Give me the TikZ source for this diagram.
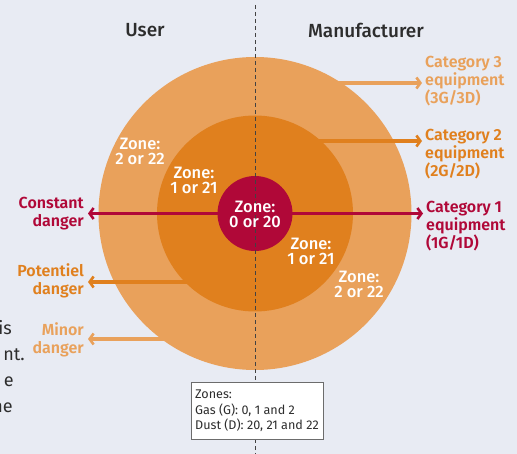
\documentclass[tikz,border=0pt]{standalone}
\usepackage{fontspec}
\setmainfont{Fira Sans}
\newfontfamily\medfont{Fira Sans Medium}
\newfontfamily\semifont{Fira Sans SemiBold}
\usetikzlibrary{arrows.meta}
\definecolor{bg}{RGB}{232,235,243}
\definecolor{ring3}{RGB}{233,161,91}
\definecolor{ring2}{RGB}{224,128,30}
\definecolor{ring1}{RGB}{176,8,56}
\definecolor{ink}{RGB}{45,45,45}
\tikzset{
  arr/.style={line width=3.4pt,-{Straight Barb[length=4pt,width=11pt,line width=2.6pt]}},
  cat/.style={inner sep=0pt,align=left,anchor=west,font=\semifont\fontsize{16}{18}\selectfont},
  dang/.style={inner sep=0pt,align=right,anchor=east,font=\semifont\fontsize{16}{18}\selectfont},
  zone/.style={inner sep=0pt,align=center,text=white,font=\medfont\fontsize{16.5}{15}\selectfont},
  head/.style={inner sep=0pt,text=ink,font=\medfont\fontsize{19}{20}\selectfont},
  frag/.style={inner sep=0pt,anchor=east,text=ink,font=\fontsize{18}{20}\selectfont}
}
\begin{document}
\begin{tikzpicture}[x=1pt,y=-1pt]
\fill[bg] (0,0) rectangle (517,454);
\useasboundingbox (0,0) rectangle (517,454);
\coordinate (c) at (255,213.5);
\fill[ring3] (c) circle (156.5);
\fill[ring2] (c) circle (98);
\fill[ring1] (c) circle (37.5);
% headers
\node[head] (user) at (145,30) {User};
\node[head] (manu) at (366,30) {Manufacturer};
% right labels
\node[cat,text=ring3] (cat3) at (425,81) {Category 3\\equipment\\(3G/3D)};
\node[cat,text=ring2] (cat2) at (425,154) {Category 2\\equipment\\(2G/2D)};
\node[cat,text=ring1] (cat1) at (426,226) {Category 1\\equipment\\(1G/1D)};
% left labels
\node[dang,text=ring1] (const) at (84,214) {Constant\\danger};
\node[dang,text=ring2] (pot) at (84,281) {Potentiel\\danger};
\node[dang,text=ring3] (minor) at (84,340) {Minor\\danger};
% arrow start points on the ring edges
\coordinate (s3) at (335,83);
\coordinate (s2) at (315,141);
\coordinate (s1) at (292,213.5);
\coordinate (s0) at (218,213.5);
\coordinate (sp) at (190,282);
\coordinate (sm) at (168,339);
\draw[arr,ring3] (s3) -- ([xshift=-3pt]s3 -| cat3.west);
\draw[arr,ring2] (s2) -- ([xshift=-3pt]s2 -| cat2.west);
\draw[arr,ring1] (s1) -- ([xshift=-3pt]s1 -| cat1.west);
\draw[arr,ring1] (s0) -- ([xshift=4pt]s0 -| const.east);
\draw[arr,ring2] (sp) -- ([xshift=4pt]sp -| pot.east);
\draw[arr,ring3] (sm) -- ([xshift=4pt]sm -| minor.east);
% dashed divider
\coordinate (dtop) at (255.3,5);
\coordinate (dbot) at (255.3,454);
\draw[ink!90,line width=1.1pt,dash pattern=on 4pt off 3pt] (dtop) -- (dbot);
% zone labels
\node[zone] (z2a) at (140,151) {Zone:\\2 or 22};
\node[zone] (z1a) at (194,180) {Zone:\\1 or 21};
\node[zone] (z0) at (255,214) {Zone:\\0 or 20};
\node[zone] (z1b) at (311,251) {Zone:\\1 or 21};
\node[zone] (z2b) at (359,284) {Zone:\\2 or 22};
% legend box
\node[draw=ink!70,line width=1pt,fill=white,minimum width=132pt,minimum height=56pt,
      inner sep=4pt,align=left,text=ink,font=\fontsize{12.6}{15.5}\selectfont] (leg) at (257,411)
  {Zones:\\Gas (G): 0, 1 and 2\\Dust (D): 20, 21 and 22};
% cut-off body text
\node[frag] (f1) at (12,328) {is};
\node[frag] (f2) at (25,355) {nt.};
\node[frag] (f3) at (14,382) {e};
\node[frag] (f4) at (13,408) {ne};
\end{tikzpicture}
\end{document}
